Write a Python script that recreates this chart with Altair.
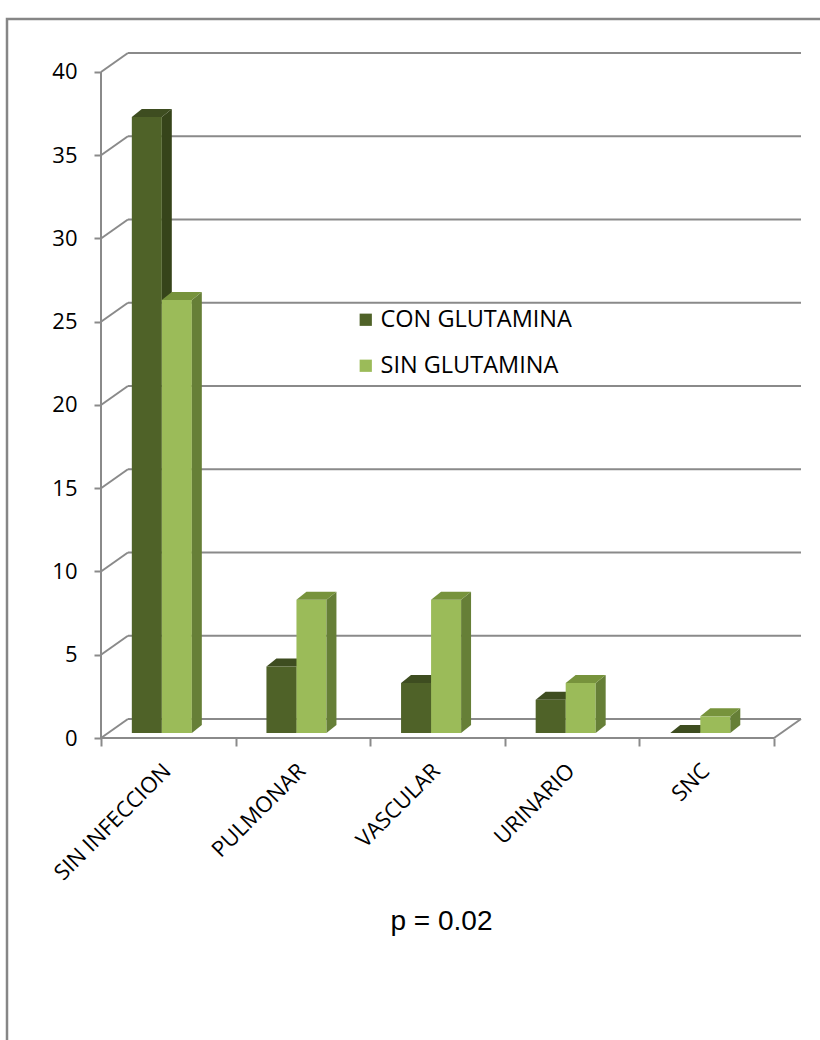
import altair as alt
import pandas as pd

# ---- data ----
categories = ["SIN INFECCION", "PULMONAR", "VASCULAR", "URINARIO", "SNC"]
con_glutamina = [37, 4, 3, 2, 0]
sin_glutamina = [26, 8, 8, 3, 1]
series_names = ["CON GLUTAMINA", "SIN GLUTAMINA"]
y_ticks = [0, 5, 10, 15, 20, 25, 30, 35, 40]
p_label = "p = 0.02"

# ---- style / 3D geometry (scale units) ----
WALL_DX, WALL_DY = 0.2, 1.14
BAR_OFF, BAR_W, BAR_BASE = 0.229, 0.223, 0.3
BAR_DX, BAR_DY = 0.074, 0.48
GRID = "#8a8a8a"
FRONT = ["#4F6228", "#9BBB59"]
SIDE = ["#36441A", "#667F37"]
TOP = ["#3E4D20", "#77933C"]
FONT = "Open Sans"

n = len(categories)

X_SCALE = alt.Scale(domain=[0, 5.2], nice=False, zero=False)
Y_SCALE = alt.Scale(domain=[0, 41.2], nice=False, zero=False)
X_AXIS = alt.Axis(values=list(range(n + 1)), labels=False, domain=False, grid=False,
                  tickSize=8, tickWidth=2, tickColor=GRID,
                  title=p_label, titleFont="Liberation Sans", titleFontSize=28,
                  titleFontWeight="normal", titleColor="black",
                  titleX=340, titleY=191, titleBaseline="alphabetic",
                  titleAlign="center")
Y_AXIS = alt.Axis(values=y_ticks, domain=False, grid=False, tickSize=7,
                  tickWidth=2, tickColor=GRID, labelFont=FONT, labelFontSize=22,
                  labelColor="black", labelPadding=17, title=None)

# grid (back wall) + connectors
grid_rows, slant_rows = [], []
for v in y_ticks:
    grid_rows.append({"x": WALL_DX, "x2": n + WALL_DX, "y": v + WALL_DY, "y2": v + WALL_DY})
    slant_rows.append({"x": 0, "x2": WALL_DX, "y": v, "y2": v + WALL_DY})
slant_rows.append({"x": n, "x2": n + WALL_DX, "y": 0, "y2": WALL_DY})
front_axes = [
    {"x": 0, "x2": n, "y": 0, "y2": 0},
    {"x": 0, "x2": 0, "y": 0, "y2": y_ticks[-1]},
]
lines_df = pd.DataFrame(grid_rows + slant_rows + front_axes)

# bars
front_rows, side_rows, top_rows = [], [], []
for s, vals in enumerate([con_glutamina, sin_glutamina]):
    for i, v in enumerate(vals):
        x0 = i + BAR_OFF + s * BAR_W
        x1 = x0 + BAR_W
        t = v + BAR_BASE
        bid = f"{s}-{i}"
        front_rows.append({"series": series_names[s], "s": s, "x": x0, "x2": x1,
                           "y": BAR_BASE, "y2": t})
        side_rows += [
            {"id": bid, "s": s, "x": x1, "lo": BAR_BASE, "hi": t},
            {"id": bid, "s": s, "x": x1 + BAR_DX, "lo": BAR_BASE + BAR_DY, "hi": t + BAR_DY},
        ]
        top_rows += [
            {"id": bid, "s": s, "x": x0, "lo": t, "hi": t},
            {"id": bid, "s": s, "x": x0 + BAR_DX, "lo": t, "hi": t + BAR_DY},
            {"id": bid, "s": s, "x": x1, "lo": t, "hi": t + BAR_DY},
            {"id": bid, "s": s, "x": x1 + BAR_DX, "lo": t + BAR_DY, "hi": t + BAR_DY},
        ]
front_df = pd.DataFrame(front_rows)
side_df = pd.DataFrame(side_rows)
top_df = pd.DataFrame(top_rows)

label_df = pd.DataFrame({"cat": categories,
                         "x": [i + 0.44 for i in range(n)],
                         "y": [-1.35] * n})

# ---- layers ----
base_lines = alt.Chart(lines_df).mark_rule(color=GRID, strokeWidth=2).encode(
    x=alt.X("x:Q", scale=X_SCALE, axis=X_AXIS),
    x2="x2:Q",
    y=alt.Y("y:Q", scale=Y_SCALE, axis=Y_AXIS),
    y2="y2:Q",
)


def faces(df, s, colors):
    return alt.Chart(df[df["s"] == s]).mark_area(color=colors[s], opacity=1).encode(
        x=alt.X("x:Q", scale=X_SCALE, axis=X_AXIS),
        y=alt.Y("lo:Q", scale=Y_SCALE, axis=Y_AXIS),
        y2="hi:Q",
        detail="id:N",
    )


fronts = alt.Chart(front_df).mark_rect().encode(
    x=alt.X("x:Q", scale=X_SCALE, axis=X_AXIS),
    x2="x2:Q",
    y=alt.Y("y:Q", scale=Y_SCALE, axis=Y_AXIS),
    y2="y2:Q",
    color=alt.Color("series:N",
                    scale=alt.Scale(domain=series_names, range=FRONT),
                    legend=alt.Legend(title=None, orient="none", legendX=253, legendY=256,
                                      symbolType="square", symbolSize=150,
                                      symbolStrokeWidth=0, labelFont=FONT,
                                      labelFontSize=23.5, labelColor="black",
                                      labelLimit=0, labelOffset=3, rowPadding=21)),
)

labels = alt.Chart(label_df).mark_text(
    angle=315, align="right", baseline="top", font=FONT, fontSize=22, color="black"
).encode(
    x=alt.X("x:Q", scale=X_SCALE, axis=X_AXIS),
    y=alt.Y("y:Q", scale=Y_SCALE, axis=Y_AXIS),
    text="cat:N",
)

frame = alt.Chart(pd.DataFrame({"a": [0]})).mark_rect(
    fillOpacity=0, stroke="#868686", strokeWidth=2.5
).encode(
    x=alt.value(-94), x2=alt.value(760), y=alt.value(-33), y2=alt.value(1100)
)

chart = alt.layer(
    base_lines,
    faces(side_df, 0, SIDE), faces(top_df, 0, TOP),
    fronts,
    faces(side_df, 1, SIDE), faces(top_df, 1, TOP),
    labels, frame,
).properties(
    width=700, height=686,
    padding={"left": 101, "top": 52, "right": 19, "bottom": 302},
    autosize=alt.AutoSizeParams(type="none"),
).configure(background="white").configure_view(stroke=None)

chart.save("out.html", embed_options={"renderer": "svg", "actions": False})
